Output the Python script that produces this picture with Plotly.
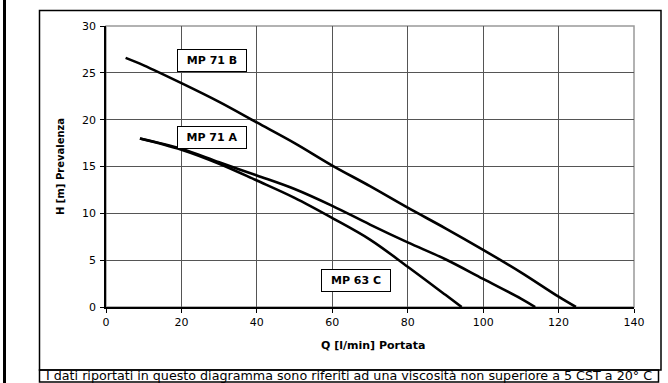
import plotly.graph_objects as go

# Data
q_71b = [5.2, 10, 20, 30, 40, 50, 60, 70, 80, 90, 100, 110, 120, 124.6]
h_71b = [26.6, 25.8, 23.9, 21.9, 19.7, 17.5, 15.1, 12.9, 10.6, 8.4, 6.1, 3.7, 1.1, 0]

q_71a = [9, 20, 30, 40, 50, 60, 70, 80, 90, 100, 110, 113.8]
h_71a = [18.0, 16.9, 15.45, 14.05, 12.6, 10.8, 8.8, 6.9, 5.1, 3.0, 0.9, 0]

q_63c = [9, 20, 30, 40, 50, 60, 70, 80, 90, 94.3]
h_63c = [18.0, 16.8, 15.3, 13.5, 11.65, 9.5, 7.2, 4.3, 1.3, 0]

series = [("MP 71 B", q_71b, h_71b), ("MP 71 A", q_71a, h_71a), ("MP 63 C", q_63c, h_63c)]
label_pos = {"MP 71 B": (28.1, 26.3), "MP 71 A": (28.1, 18.1), "MP 63 C": (66.4, 2.8)}

x_title = "Q [l/min] Portata"
y_title = "H [m] Prevalenza"
caption = "I dati riportati in questo diagramma sono riferiti ad una viscosità non superiore a 5 CST a 20° C"

FONT = "DejaVu Sans, sans-serif"
W, H = 668, 383
L, R, T, B = 106, 34, 26, 76
PW, PH = W - L - R, H - T - B


def px(x):
    return (x - L) / PW


def py(y):
    return (H - B - y) / PH


fig = go.Figure()
for name, q, h in series:
    fig.add_trace(go.Scatter(x=q, y=h, mode="lines", name=name,
                             line=dict(color="black", width=2.6, shape="spline", smoothing=1.0),
                             showlegend=False, hoverinfo="skip"))

annotations = []
for name, (ax, ay) in label_pos.items():
    annotations.append(dict(x=ax, y=ay, xref="x", yref="y", text="<b>%s</b>" % name,
                            showarrow=False, font=dict(family=FONT, size=11, color="black"),
                            bgcolor="white", bordercolor="black", borderwidth=1,
                            width=66, height=19))

annotations.append(dict(x=px(349), y=py(375.6), xref="paper", yref="paper", text=caption,
                        showarrow=False, font=dict(family=FONT, size=12.7, color="black"),
                        xanchor="center", yanchor="middle"))
annotations.append(dict(x=px(373), y=py(346), xref="paper", yref="paper", text="<b>%s</b>" % x_title,
                        showarrow=False, font=dict(family=FONT, size=11, color="black"),
                        xanchor="center", yanchor="middle"))
annotations.append(dict(x=px(60), y=py(167), xref="paper", yref="paper", text="<b>%s</b>" % y_title,
                        showarrow=False, textangle=-90, font=dict(family=FONT, size=10, color="black"),
                        xanchor="center", yanchor="middle"))

shapes = [
    # page left bar
    dict(type="rect", xref="paper", yref="paper", x0=px(3), x1=px(6), y0=py(0), y1=py(383),
         fillcolor="black", line=dict(width=0), layer="above"),
    # chart frame
    dict(type="rect", xref="paper", yref="paper", x0=px(39.5), x1=px(661), y0=py(10.5), y1=py(370),
         line=dict(color="black", width=1.5), layer="above"),
    # caption box
    dict(type="rect", xref="paper", yref="paper", x0=px(39.5), x1=px(658.5), y0=py(370), y1=py(382),
         line=dict(color="black", width=1.5), layer="above"),
    # plot area border (grey)
    dict(type="rect", xref="paper", yref="paper", x0=0, x1=1, y0=0, y1=1,
         line=dict(color="#999999", width=1.5), layer="below"),
]

fig.update_layout(
    width=W, height=H,
    margin=dict(l=L, r=R, t=T, b=B),
    paper_bgcolor="white", plot_bgcolor="white",
    font=dict(family=FONT, size=11, color="black"),
    annotations=annotations, shapes=shapes,
    xaxis=dict(range=[0, 140], dtick=20, tick0=0, showgrid=True, gridcolor="#555555", gridwidth=1,
               zeroline=False, showline=True, linecolor="black", linewidth=1.5,
               ticks="outside", ticklen=4, tickcolor="black",
               tickfont=dict(family=FONT, size=11, color="black"), fixedrange=True),
    yaxis=dict(range=[0, 30], dtick=5, tick0=0, showgrid=True, gridcolor="#555555", gridwidth=1,
               zeroline=False, showline=True, linecolor="black", linewidth=1.5,
               ticks="outside", ticklen=4, tickcolor="black", ticklabelstandoff=2,
               tickfont=dict(family=FONT, size=11, color="black"), fixedrange=True),
)

fig.write_html("out.html", config={"displayModeBar": False})
